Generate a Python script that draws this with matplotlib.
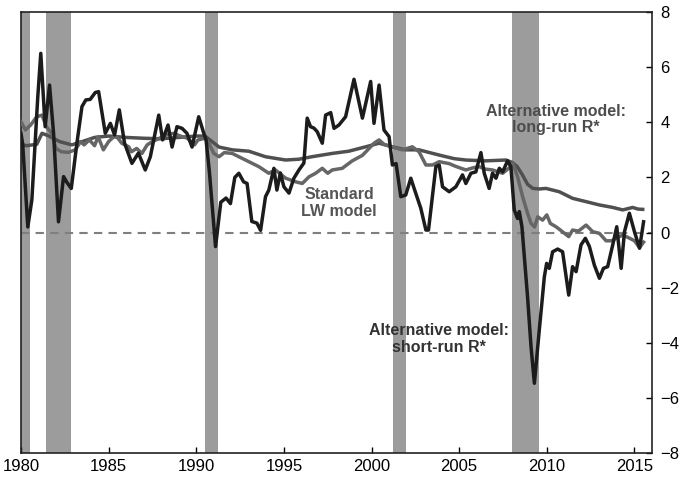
import matplotlib
matplotlib.use("Agg")
import matplotlib.pyplot as plt

plt.rcParams['font.family'] = ['Liberation Sans', 'DejaVu Sans']

# recession periods (start, end)
recessions = [(1980.0, 1980.53), (1981.45, 1982.87), (1990.48, 1991.25),
              (2001.23, 2001.95), (2007.99, 2009.55)]

# Alternative model: short-run R*
short_years = [1980.0, 1980.1, 1980.39, 1980.62, 1980.96, 1981.13, 1981.38, 1981.63, 1981.86,
               1982.14, 1982.43, 1982.6, 1982.87, 1983.19, 1983.48, 1983.7, 1983.95, 1984.24,
               1984.43, 1984.81, 1985.1, 1985.34, 1985.61, 1985.91, 1986.33, 1986.7, 1987.09,
               1987.38, 1987.86, 1988.08, 1988.39, 1988.62, 1988.9, 1989.19, 1989.47, 1989.76,
               1990.14, 1990.43, 1990.56, 1990.75, 1991.1, 1991.4, 1991.7, 1991.95, 1992.2,
               1992.43, 1992.7, 1992.9, 1993.17, 1993.46, 1993.67, 1993.95, 1994.14, 1994.43,
               1994.6, 1994.8, 1995.0, 1995.29, 1995.57, 1995.86, 1996.14, 1996.33, 1996.52,
               1996.71, 1996.9, 1997.19, 1997.38, 1997.67, 1997.86, 1998.14, 1998.52, 1999.0,
               1999.48, 1999.95, 2000.14, 2000.43, 2000.71, 2001.0, 2001.19, 2001.4, 2001.67,
               2001.95, 2002.24, 2002.43, 2002.81, 2003.1, 2003.25, 2003.67, 2003.86, 2004.05,
               2004.43, 2004.81, 2005.19, 2005.38, 2005.67, 2005.95, 2006.24, 2006.43, 2006.71,
               2006.9, 2007.1, 2007.29, 2007.48, 2007.76, 2007.95, 2008.14, 2008.33, 2008.43,
               2008.58, 2008.9, 2009.1, 2009.29, 2009.57, 2009.86, 2009.99, 2010.14, 2010.33,
               2010.62, 2010.9, 2011.25, 2011.47, 2011.67, 2011.95, 2012.2, 2012.43, 2012.71,
               2013.0, 2013.23, 2013.47, 2013.76, 2013.99, 2014.24, 2014.43, 2014.71, 2015.0,
               2015.29, 2015.52]
short_vals = [3.6, 3.2, 0.2, 1.18, 4.93, 6.5, 3.84, 5.35, 3.6,
              0.39, 2.03, 1.84, 1.6, 3.24, 4.57, 4.81, 4.83, 5.08,
              5.11, 3.6, 3.96, 3.54, 4.45, 3.24, 2.51, 2.88, 2.27,
              2.75, 4.26, 3.36, 3.9, 3.1, 3.84, 3.78, 3.6, 3.1,
              4.2, 3.6, 3.36, 2.2, -0.51, 1.1, 1.25, 1.05, 2.0,
              2.15, 1.84, 1.78, 0.4, 0.34, 0.08, 1.3, 1.54, 2.33,
              1.54, 2.16, 1.66, 1.43, 1.97, 2.27, 2.52, 4.15, 3.84,
              3.79, 3.66, 3.24, 4.26, 4.35, 3.78, 3.9, 4.2, 5.56,
              4.15, 5.48, 3.96, 5.35, 3.72, 3.48, 2.45, 2.5, 1.3,
              1.36, 1.97, 1.6, 0.88, 0.09, 0.09, 2.39, 2.45, 1.66,
              1.48, 1.66, 2.09, 1.78, 2.15, 2.2, 2.9, 2.15, 1.6,
              2.15, 1.97, 2.33, 2.2, 2.6, 2.39, 0.82, 0.51, 0.76,
              0.21, -2.33, -4.15, -5.47, -3.54, -1.6, -1.12, -1.3, -0.7,
              -0.6, -0.7, -2.27, -1.24, -1.42, -0.45, -0.21, -0.51, -1.18,
              -1.66, -1.3, -1.24, -0.45, 0.21, -1.3, 0.03, 0.7, 0.03,
              -0.57, 0.39]

# Alternative model: long-run R*
long_years = [1980.0, 1980.3, 1980.9, 1981.2, 1981.6, 1982.2, 1982.9, 1983.5, 1984.2, 1985.0,
              1986.0, 1987.0, 1988.0, 1989.0, 1990.0, 1990.5, 1990.9, 1991.3, 1992.05, 1993.0,
              1993.95, 1995.1, 1995.86, 1996.6, 1997.76, 1998.7, 1999.67, 2000.43, 2001.19,
              2001.95, 2002.7, 2003.86, 2004.71, 2005.38, 2006.5, 2007.67, 2008.0, 2008.3,
              2008.6, 2008.9, 2009.2, 2009.57, 2009.95, 2010.71, 2011.47, 2012.24, 2013.0,
              2013.76, 2014.33, 2014.9, 2015.2, 2015.47]
long_vals = [3.2, 3.15, 3.2, 3.6, 3.5, 3.3, 3.18, 3.3, 3.45, 3.5,
             3.45, 3.42, 3.4, 3.45, 3.5, 3.5, 3.3, 3.1, 3.0, 2.95,
             2.75, 2.63, 2.66, 2.75, 2.87, 2.95, 3.11, 3.24, 3.11,
             3.0, 3.0, 2.81, 2.68, 2.63, 2.6, 2.63, 2.55, 2.4,
             2.1, 1.75, 1.6, 1.58, 1.6, 1.48, 1.24, 1.12, 1.0,
             0.91, 0.82, 0.91, 0.85, 0.84]

# Standard LW model
lw_years = [1980.0, 1980.25, 1980.55, 1980.9, 1981.2, 1981.45, 1981.75, 1982.0, 1982.3, 1982.7,
            1983.1, 1983.4, 1983.6, 1983.9, 1984.2, 1984.4, 1984.7, 1985.0, 1985.3, 1985.5,
            1985.75, 1986.15, 1986.3, 1986.6, 1986.9, 1987.2, 1987.5, 1987.9, 1988.3, 1988.7,
            1989.1, 1989.5, 1989.9, 1990.1, 1990.5, 1990.75, 1991.0, 1991.3, 1991.6, 1992.05,
            1992.81, 1993.57, 1994.14, 1994.52, 1995.1, 1995.67, 1996.05, 1996.43, 1996.81,
            1997.19, 1997.5, 1997.76, 1998.33, 1998.9, 1999.48, 1999.86, 2000.14, 2000.43,
            2000.71, 2001.19, 2001.76, 2002.33, 2002.71, 2003.1, 2003.48, 2003.86, 2004.43,
            2004.8, 2005.38, 2005.8, 2006.14, 2006.5, 2006.9, 2007.48, 2007.86, 2008.05,
            2008.33, 2008.62, 2008.9, 2009.1, 2009.3, 2009.48, 2009.76, 2010.0, 2010.2,
            2010.52, 2010.71, 2011.25, 2011.47, 2011.8, 2012.24, 2012.62, 2013.0, 2013.38,
            2013.7, 2013.95, 2014.33, 2014.7, 2015.0, 2015.29, 2015.52]
lw_vals = [4.02, 3.72, 3.9, 4.2, 4.26, 3.84, 3.6, 3.05, 2.93, 2.91,
           3.0, 3.3, 3.18, 3.36, 3.15, 3.48, 3.0, 3.3, 3.48, 3.45,
           3.24, 3.11, 2.93, 3.05, 2.87, 3.18, 3.3, 3.42, 3.54, 3.6,
           3.5, 3.42, 3.18, 3.36, 3.42, 3.2, 2.87, 2.75, 2.9, 2.87,
           2.63, 2.39, 2.15, 2.27, 1.97, 1.84, 1.78, 2.02, 2.15,
           2.33, 2.15, 2.27, 2.33, 2.6, 2.8, 3.05, 3.24, 3.36,
           3.2, 3.1, 3.0, 3.11, 2.93, 2.45, 2.45, 2.57, 2.5,
           2.4, 2.27, 2.35, 2.39, 2.3, 2.27, 2.15, 2.35, 2.52,
           2.03, 1.3, 0.7, 0.33, 0.2, 0.57, 0.45, 0.64, 0.33,
           0.21, 0.12, -0.15, 0.09, 0.05, 0.27, 0.03, -0.03, -0.3,
           -0.3, -0.21, -0.09, -0.2, -0.3, -0.55, -0.35]

fig = plt.figure(figsize=(6.83, 4.83), dpi=100)
ax = fig.add_axes([0.0307, 0.0621, 0.9239, 0.913])

# shaded recessions
for start, end in recessions:
    ax.axvspan(start, end, color='#9c9c9c', lw=0, zorder=0)

ax.axhline(0, color='#7f7f7f', lw=1.5, ls=(0, (4, 3)), zorder=1)

ax.plot(long_years, long_vals, color='#505050', lw=2.5, zorder=2, solid_joinstyle='round')
ax.plot(lw_years, lw_vals, color='#666666', lw=2.5, zorder=3, solid_joinstyle='round')
ax.plot(short_years, short_vals, color='#1c1c1c', lw=2.5, zorder=4, solid_joinstyle='round')

ax.text(2010.5, 4.1, "Alternative model:\nlong-run R*", ha='center', va='center',
        fontsize=11.5, fontweight='bold', color='#4d4d4d', linespacing=1.15)
ax.text(1998.15, 1.07, "Standard\nLW model", ha='center', va='center',
        fontsize=11.5, fontweight='bold', color='#555555', linespacing=1.15)
ax.text(2003.85, -3.85, "Alternative model:\nshort-run R*", ha='center', va='center',
        fontsize=11.5, fontweight='bold', color='#333333', linespacing=1.15)

ax.set_xlim(1980, 2016)
ax.set_ylim(-8, 8)
ax.set_xticks([1980, 1985, 1990, 1995, 2000, 2005, 2010, 2015])
ax.set_yticks([-8, -6, -4, -2, 0, 2, 4, 6, 8])
ax.yaxis.tick_right()
ax.tick_params(axis='both', direction='in', length=4, width=1, labelsize=12)
ax.tick_params(axis='y', pad=6)
ax.tick_params(axis='x', pad=4)
for sp in ax.spines.values():
    sp.set_linewidth(1.2)
    sp.set_color('#222222')

fig.savefig("out.png", dpi=100)
